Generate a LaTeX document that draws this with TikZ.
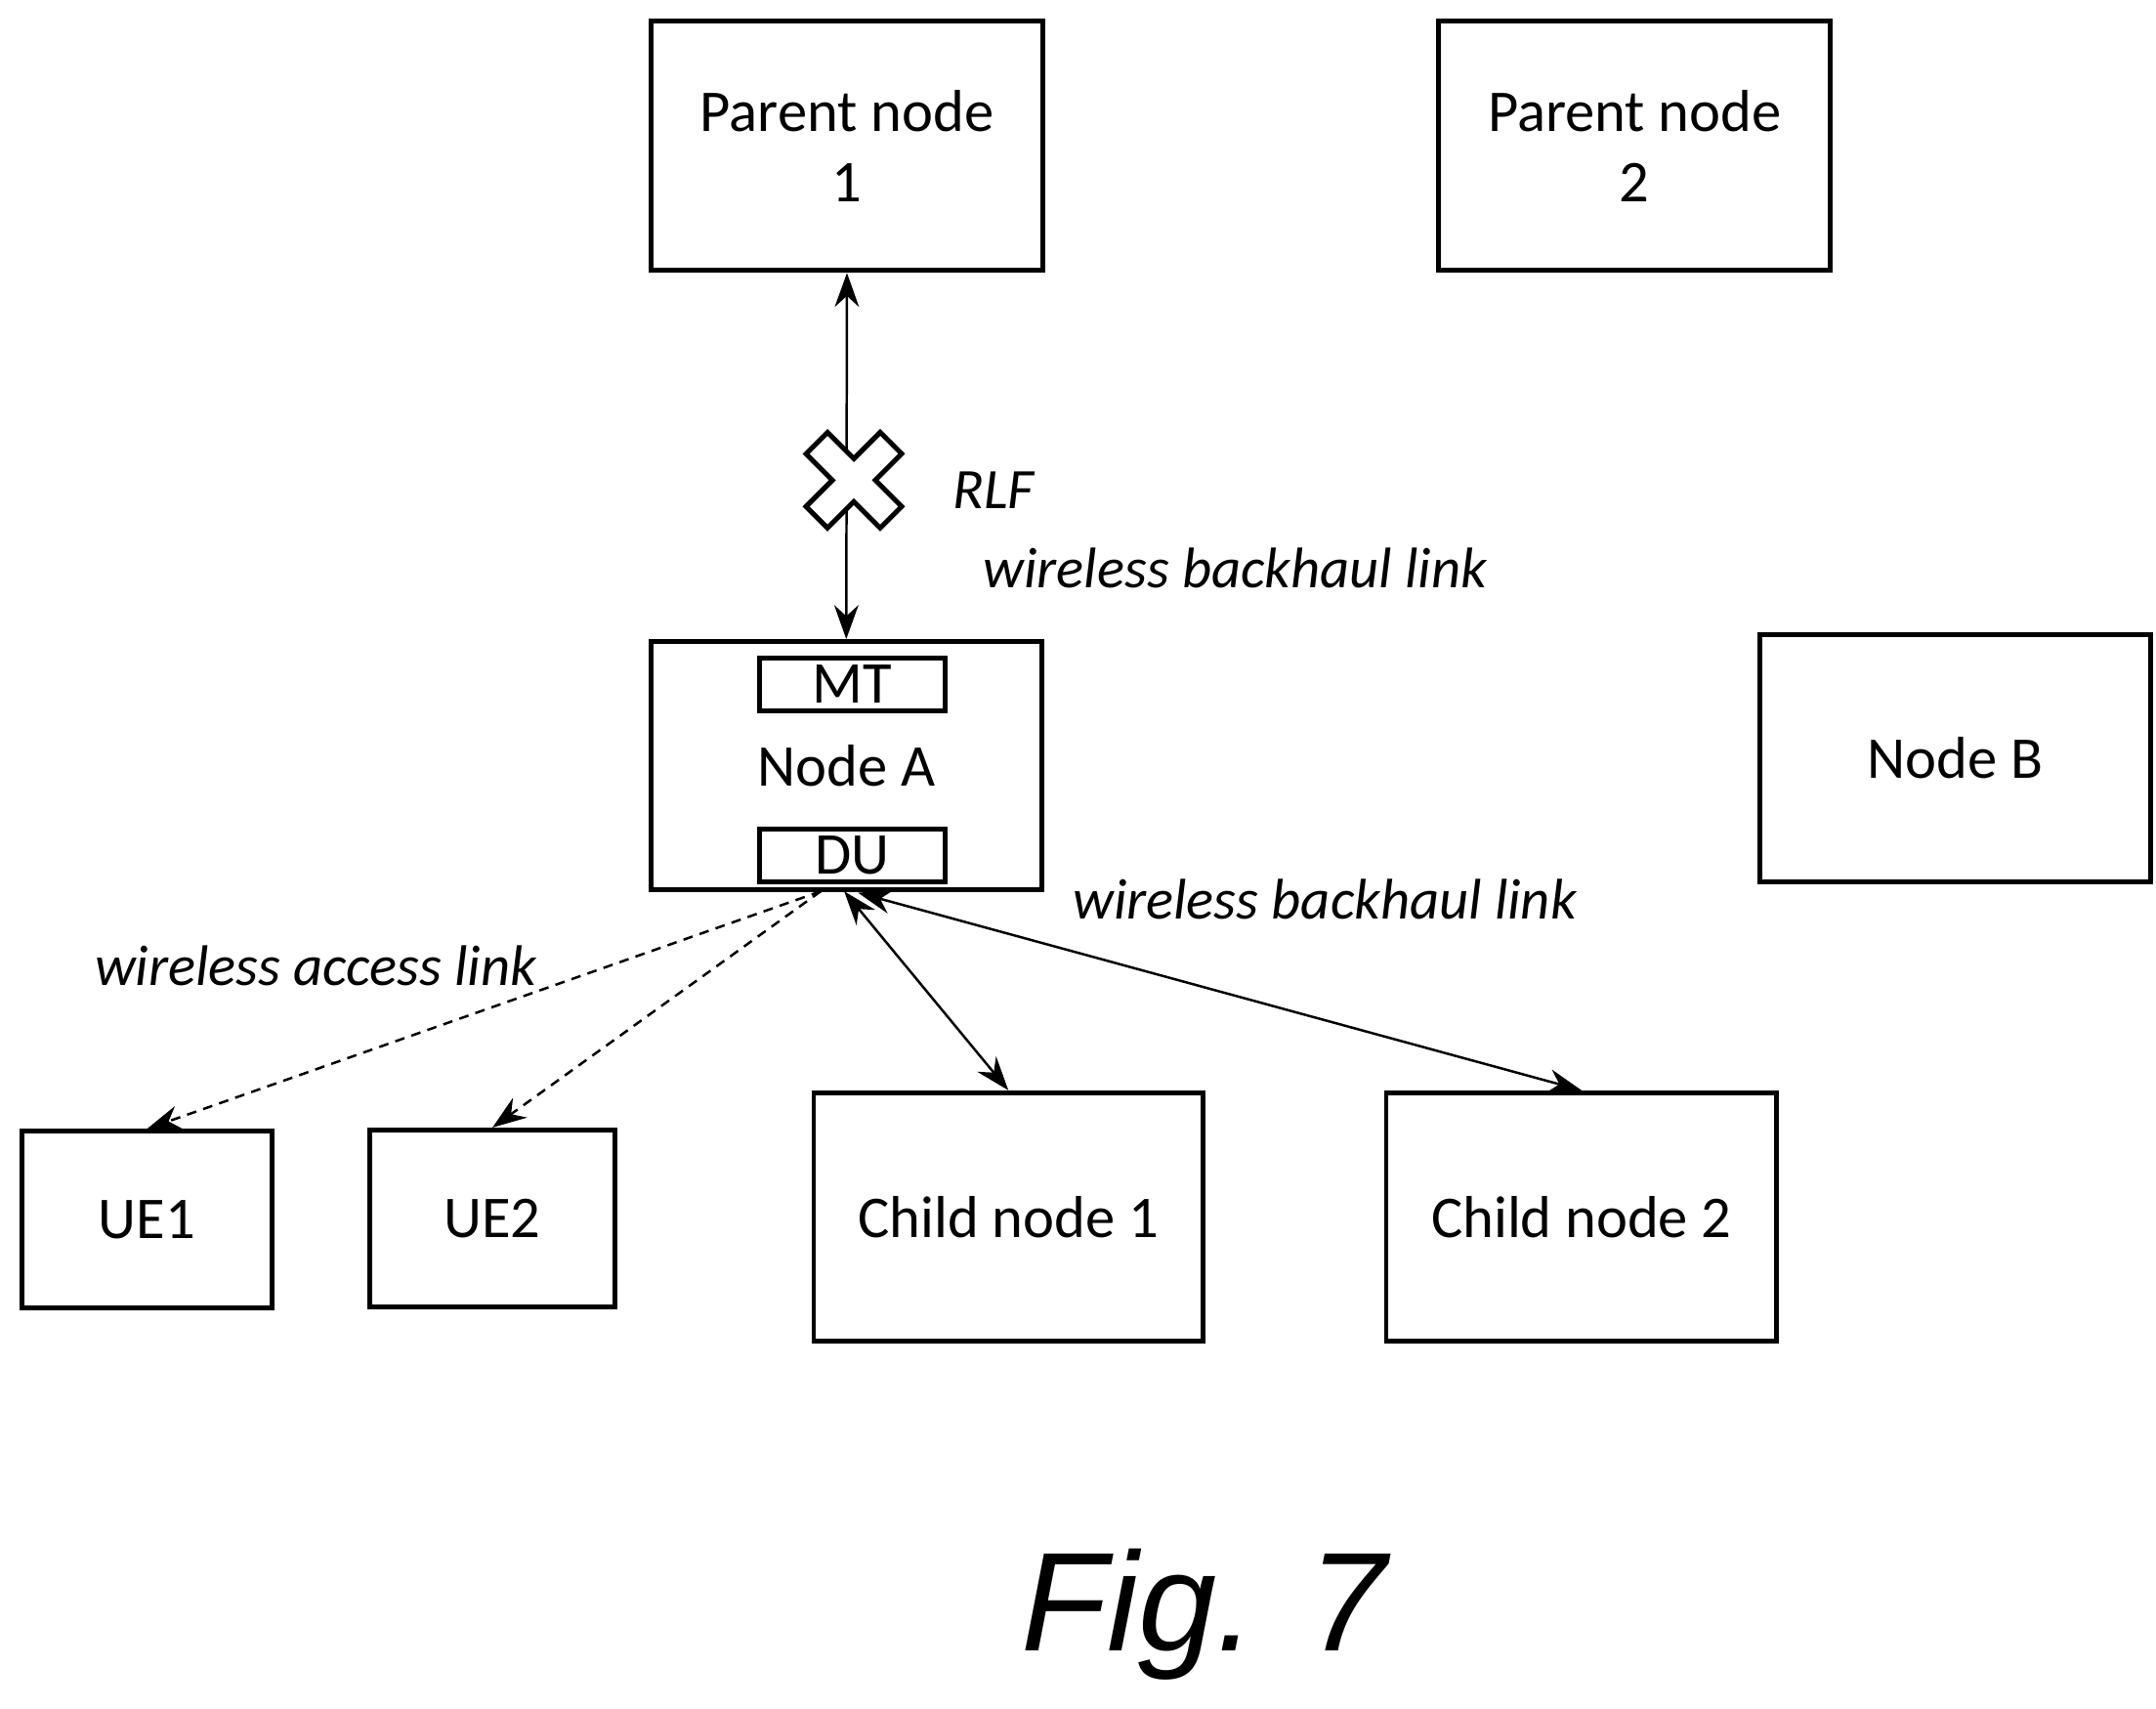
\documentclass[tikz,border=0pt]{standalone}
\usepackage{fontspec}
\setmainfont{Carlito}
\newfontfamily\figfont{Liberation Sans}
\usetikzlibrary{arrows.meta}
\begin{document}
\begin{tikzpicture}[x=0.01cm,y=-0.01cm,
  box/.style={draw,line width=1pt,inner sep=0pt,font=\fontsize{12.2}{14.5}\selectfont,align=center},
  lbl/.style={font=\itshape\fontsize{11.8}{14}\selectfont,inner sep=0pt},
  arr/.style={line width=0.5pt,{Stealth[length=7pt,width=5pt]}-{Stealth[length=7pt,width=5pt]}},
  darr/.style={line width=0.5pt,dashed,dash pattern=on 2pt off 1.5pt,-{Stealth[length=7pt,width=5pt]}}]
\useasboundingbox (0,0) rectangle (1563,1238);
\node[box,minimum width=2.84cm,minimum height=1.81cm] (p1) at (614,105.5) {Parent node\\1};
\node[box,minimum width=2.84cm,minimum height=1.81cm] (p2) at (1185,105.5) {Parent node\\2};
\node[box,minimum width=2.83cm,minimum height=1.80cm] (a) at (613.5,555) {Node A};
\node[box,minimum width=1.34cm,minimum height=0.38cm] (mt) at (618,496) {MT};
\node[box,minimum width=1.34cm,minimum height=0.38cm] (du) at (618,620) {DU};
\node[box,minimum width=2.83cm,minimum height=1.79cm] (b) at (1417.5,549.5) {Node B};
\node[box,minimum width=1.81cm,minimum height=1.28cm] (ue1) at (106.5,884) {UE1};
\node[box,minimum width=1.78cm,minimum height=1.28cm] (ue2) at (357,883) {UE2};
\node[box,minimum width=2.82cm,minimum height=1.80cm] (c1) at (731,882) {Child node 1};
\node[box,minimum width=2.83cm,minimum height=1.80cm] (c2) at (1146.5,882) {Child node 2};
\draw[arr] (p1.south) -- (a.north);
\begin{scope}[shift={(619,348)},rotate=45]
\draw[line width=1pt,fill=white] (-11,-38)--(11,-38)--(11,-11)--(38,-11)--(38,11)--(11,11)--(11,38)--(-11,38)--(-11,11)--(-38,11)--(-38,-11)--(-11,-11)--cycle;
\end{scope}
\node[lbl,anchor=west] (rlf) at (690,355) {RLF};
\node[lbl,anchor=west] (wb1) at (712,412) {wireless backhaul link};
\node[lbl,anchor=west] (wb2) at (777,652) {wireless backhaul link};
\node[lbl,anchor=west] (wa) at (68,700) {wireless access link};
\coordinate (d1) at (595,646);
\coordinate (d2) at (612,646);
\coordinate (d3) at (622,647);
\draw[darr] (d1) -- (ue1.north);
\draw[darr] (d1) -- (ue2.north);
\draw[arr] (d2) -- (c1.north);
\draw[arr] (d3) -- (c2.north);
\node[font=\figfont\itshape\fontsize{29}{34}\selectfont,inner sep=0pt] (fig) at (873,1170) {Fig. 7};
\end{tikzpicture}
\end{document}
